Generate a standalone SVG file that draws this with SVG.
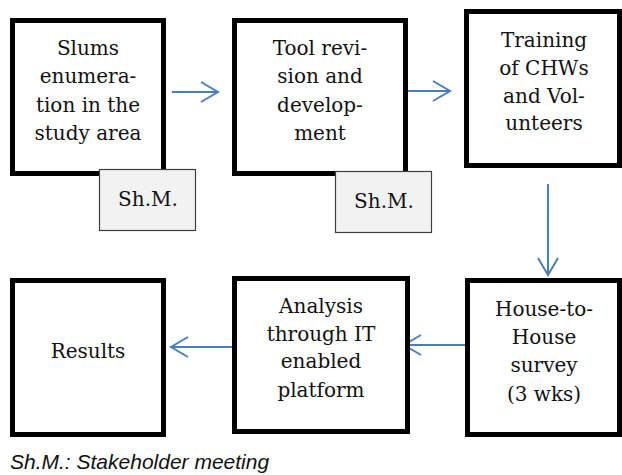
<svg xmlns="http://www.w3.org/2000/svg" width="622" height="475" viewBox="0 0 622 475">
<defs>
<style>
.box{fill:#fff;stroke:#000;stroke-width:5}
.note{fill:#f2f2f2;stroke:#404040;stroke-width:1.2}
.t{font-family:"DejaVu Serif","Liberation Serif",serif;font-size:20px;fill:#111;text-anchor:middle}
.conn{fill:none;stroke:#4a7ebb;stroke-width:2;marker-end:url(#ah)}
.foot{font-family:"Liberation Sans",Arial,sans-serif;font-style:italic;font-size:21px;fill:#111}
</style>
<marker id="ah" markerUnits="userSpaceOnUse" markerWidth="30" markerHeight="30" viewBox="-20 -15 30 30" refX="0" refY="0" orient="auto">
<path d="M-17,-10 L0,0 L-17,10" fill="none" stroke="#4a7ebb" stroke-width="2"/>
</marker>
</defs>
<rect width="622" height="475" fill="#fff"/>
<g id="connectors">
<line class="conn" x1="172" y1="92" x2="218" y2="92"/>
<line class="conn" x1="403" y1="91" x2="450" y2="91"/>
<line class="conn" x1="548" y1="184" x2="548" y2="275"/>
<line class="conn" x1="465" y1="345" x2="404" y2="345"/>
<line class="conn" x1="232" y1="347" x2="171" y2="347"/>
</g>
<g id="n1">
<rect class="box" x="12.5" y="20.5" width="151" height="153"/>
<text class="t" x="88" y="55">Slums</text>
<text class="t" x="88" y="83">enumera-</text>
<text class="t" x="88" y="112">tion in the</text>
<text class="t" x="88" y="140">study area</text>
</g>
<g id="shm1">
<rect class="note" x="99.5" y="169.5" width="96" height="61"/>
<text class="t" x="148" y="206">Sh.M.</text>
</g>
<g id="n2">
<rect class="box" x="234.5" y="20.5" width="171" height="153"/>
<text class="t" x="320" y="55">Tool revi-</text>
<text class="t" x="320" y="83">sion and</text>
<text class="t" x="320" y="112">develop-</text>
<text class="t" x="320" y="140">ment</text>
</g>
<g id="shm2">
<rect class="note" x="335.5" y="171.5" width="96" height="61"/>
<text class="t" x="384" y="208">Sh.M.</text>
</g>
<g id="n3">
<rect class="box" x="466.5" y="11.5" width="153" height="154"/>
<text class="t" x="544" y="47">Training</text>
<text class="t" x="544" y="75">of CHWs</text>
<text class="t" x="544" y="103">and Vol-</text>
<text class="t" x="544" y="130">unteers</text>
</g>
<g id="n4">
<rect class="box" x="467.5" y="280.5" width="152" height="154"/>
<text class="t" x="544" y="316">House-to-</text>
<text class="t" x="544" y="344">House</text>
<text class="t" x="544" y="372">survey</text>
<text class="t" x="544" y="401">(3 wks)</text>
</g>
<g id="n5">
<rect class="box" x="234.5" y="278.5" width="173" height="153"/>
<text class="t" x="321" y="313">Analysis</text>
<text class="t" x="321" y="341">through IT</text>
<text class="t" x="321" y="368">enabled</text>
<text class="t" x="321" y="397">platform</text>
</g>
<g id="n6">
<rect class="box" x="12.5" y="280.5" width="151" height="154"/>
<text class="t" x="88" y="358">Results</text>
</g>
<text class="foot" x="10" y="469">Sh.M.: Stakeholder meeting</text>
</svg>
